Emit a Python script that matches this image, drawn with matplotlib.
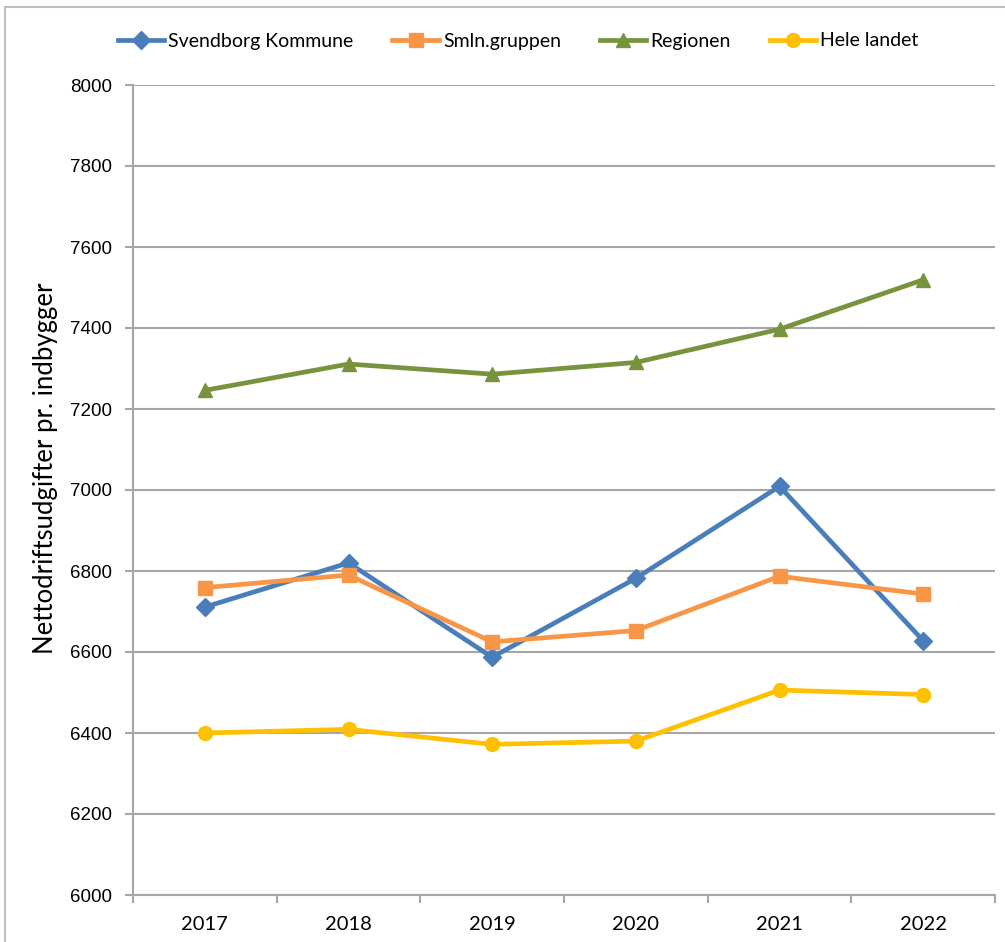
import matplotlib
matplotlib.use("Agg")
import matplotlib.pyplot as plt
from matplotlib.patches import Rectangle

# Nettodriftsudgifter pr. indbygger, 2017-2022
years = ["2017", "2018", "2019", "2020", "2021", "2022"]
svendborg = [6711, 6820, 6587, 6782, 7009, 6628]
smln = [6759, 6790, 6625, 6653, 6787, 6743]
regionen = [7246, 7311, 7286, 7315, 7397, 7519]
hele_landet = [6400, 6409, 6372, 6380, 6506, 6495]
y_ticks = list(range(6000, 8001, 200))

BLUE = "#4A7EBB"
ORANGE = "#F79646"
GREEN = "#77933C"
YELLOW = "#FFC000"
GRID = "#A6A6A6"

plt.rcParams["font.family"] = ["Liberation Sans", "DejaVu Sans"]
SOFT = ["Lato", "DejaVu Sans"]

W, H = 1005, 942
fig = plt.figure(figsize=(W / 100, H / 100), dpi=100)
fig.patches.append(Rectangle((5, -20), 1100, H - 7 + 20, transform=None,
                             fill=False, edgecolor="#BFBFBF", linewidth=1.5))

ax = fig.add_axes([133 / W, 47 / H, 862 / W, 810 / H])
x = list(range(len(years)))

series = [
    ("Svendborg Kommune", svendborg, BLUE, "D", 9),
    ("Smln.gruppen", smln, ORANGE, "s", 9.5),
    ("Regionen", regionen, GREEN, "^", 10.5),
    ("Hele landet", hele_landet, YELLOW, "o", 10),
]
for name, vals, color, marker, ms in series:
    ax.plot(x, vals, color=color, linewidth=3.4, marker=marker, markersize=ms,
            markerfacecolor=color, markeredgecolor=color, label=name,
            solid_joinstyle="round", zorder=3)

ax.set_xlim(-0.5, len(years) - 0.5)
ax.set_ylim(6000, 8000)
ax.set_yticks(y_ticks)
ax.set_yticklabels([str(v) for v in y_ticks], fontsize=13.5)
ax.yaxis.grid(True, color=GRID, linewidth=1.5)
ax.set_axisbelow(True)

# category labels centred, tick marks on the boundaries
ax.set_xticks([i - 0.5 for i in range(len(years) + 1)])
ax.set_xticklabels([])
ax.set_xticks(x, minor=True)
ax.set_xticklabels(years, minor=True, fontsize=14.5, family=SOFT)
ax.tick_params(axis="x", which="minor", length=0, pad=15)
ax.tick_params(axis="x", which="major", length=6, width=1.5, color=GRID)
ax.tick_params(axis="y", length=6, width=1.5, color=GRID, pad=9)

for side in ["top", "right"]:
    ax.spines[side].set_visible(False)
for side in ["left", "bottom"]:
    ax.spines[side].set_color(GRID)
    ax.spines[side].set_linewidth(1.5)

ax.set_ylabel("Nettodriftsudgifter pr. indbygger", fontsize=18.5, family=SOFT)
ax.yaxis.set_label_coords(-0.087, 0.527)

fig.legend(loc="center", bbox_to_anchor=(518 / W, 1 - 41 / H), ncol=4,
           frameon=False, prop={"family": SOFT, "size": 14},
           handlelength=2.4, columnspacing=2.0, handletextpad=0.2)

fig.savefig("out.png", dpi=100)
